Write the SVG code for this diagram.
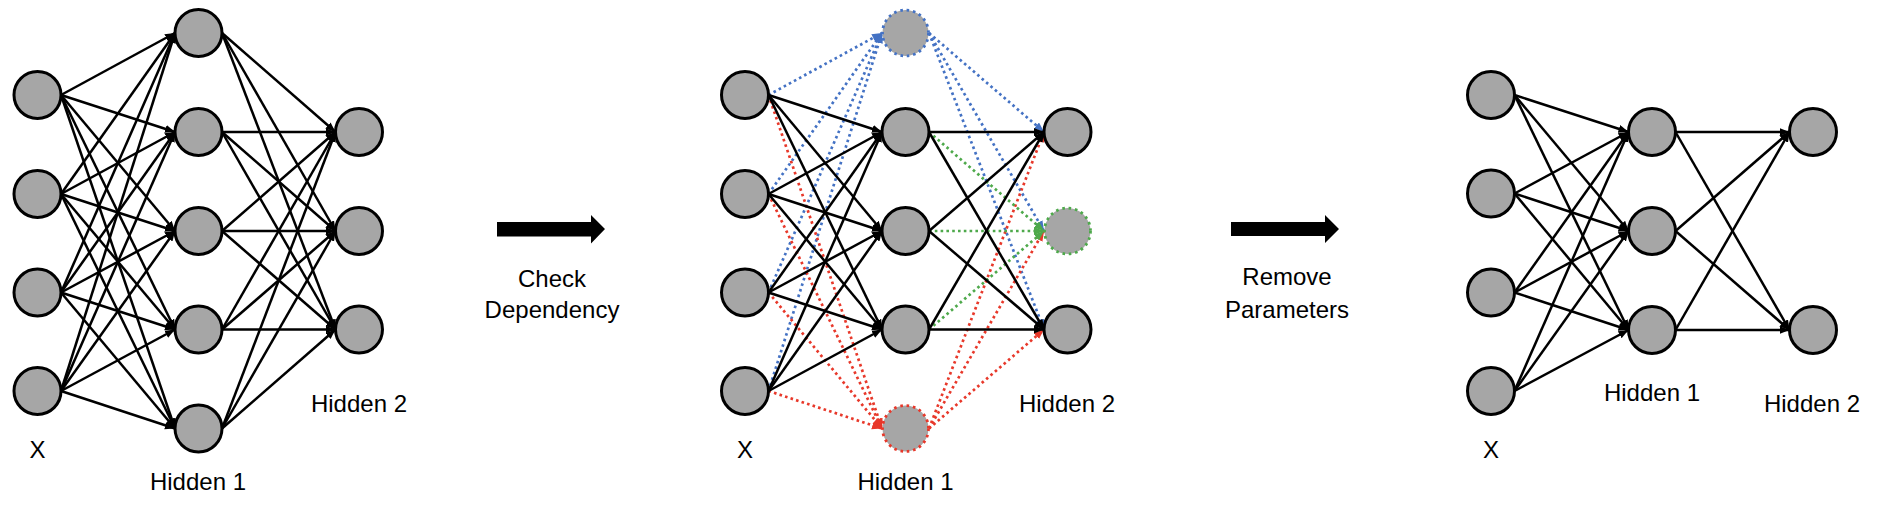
<svg xmlns="http://www.w3.org/2000/svg" width="1890" height="508" viewBox="0 0 1890 508">
<style>
.n{fill:#a6a6a6;stroke:#000;stroke-width:3}
.nd{fill:#a6a6a6;stroke-width:2.8;stroke-dasharray:2.6 3.8}
.e{stroke:#000;stroke-width:2.5;fill:none;marker-end:url(#ak)}
.b{stroke:#4472c4;stroke-width:2.7;stroke-dasharray:2.6 3.2;fill:none;marker-end:url(#ab)}
.r{stroke:#e8382a;stroke-width:2.7;stroke-dasharray:2.6 3.2;fill:none;marker-end:url(#ar)}
.g{stroke:#4ea94b;stroke-width:2.7;stroke-dasharray:2.6 3.2;fill:none;marker-end:url(#ag)}
text{font-family:"Liberation Sans",Arial,sans-serif;font-size:24px;fill:#000;text-anchor:middle}
</style>
<defs>
<marker id="ak" markerUnits="userSpaceOnUse" markerWidth="11" markerHeight="9" refX="10" refY="4" orient="auto"><path d="M0,0 L10,4 L0,8 z" fill="#000"/></marker>
<marker id="ab" markerUnits="userSpaceOnUse" markerWidth="11" markerHeight="9" refX="10" refY="4" orient="auto"><path d="M0,0 L10,4 L0,8 z" fill="#4472c4"/></marker>
<marker id="ar" markerUnits="userSpaceOnUse" markerWidth="11" markerHeight="9" refX="10" refY="4" orient="auto"><path d="M0,0 L10,4 L0,8 z" fill="#e8382a"/></marker>
<marker id="ag" markerUnits="userSpaceOnUse" markerWidth="11" markerHeight="9" refX="10" refY="4" orient="auto"><path d="M0,0 L10,4 L0,8 z" fill="#4ea94b"/></marker>
</defs>
<rect width="1890" height="508" fill="#fff"/>

<g id="connectors">
<!-- Panel 1: X -> H1 -->
<line class="e" x1="61" y1="95" x2="175" y2="33"/>
<line class="e" x1="61" y1="95" x2="175" y2="132"/>
<line class="e" x1="61" y1="95" x2="175" y2="231"/>
<line class="e" x1="61" y1="95" x2="175" y2="329.5"/>
<line class="e" x1="61" y1="95" x2="175" y2="428.5"/>
<line class="e" x1="61" y1="194" x2="175" y2="33"/>
<line class="e" x1="61" y1="194" x2="175" y2="132"/>
<line class="e" x1="61" y1="194" x2="175" y2="231"/>
<line class="e" x1="61" y1="194" x2="175" y2="329.5"/>
<line class="e" x1="61" y1="194" x2="175" y2="428.5"/>
<line class="e" x1="61" y1="292.5" x2="175" y2="33"/>
<line class="e" x1="61" y1="292.5" x2="175" y2="132"/>
<line class="e" x1="61" y1="292.5" x2="175" y2="231"/>
<line class="e" x1="61" y1="292.5" x2="175" y2="329.5"/>
<line class="e" x1="61" y1="292.5" x2="175" y2="428.5"/>
<line class="e" x1="61" y1="391" x2="175" y2="33"/>
<line class="e" x1="61" y1="391" x2="175" y2="132"/>
<line class="e" x1="61" y1="391" x2="175" y2="231"/>
<line class="e" x1="61" y1="391" x2="175" y2="329.5"/>
<line class="e" x1="61" y1="391" x2="175" y2="428.5"/>
<!-- Panel 1: H1 -> H2 -->
<line class="e" x1="222" y1="33" x2="335.5" y2="132"/>
<line class="e" x1="222" y1="33" x2="335.5" y2="231"/>
<line class="e" x1="222" y1="33" x2="335.5" y2="329.5"/>
<line class="e" x1="222" y1="132" x2="335.5" y2="132"/>
<line class="e" x1="222" y1="132" x2="335.5" y2="231"/>
<line class="e" x1="222" y1="132" x2="335.5" y2="329.5"/>
<line class="e" x1="222" y1="231" x2="335.5" y2="132"/>
<line class="e" x1="222" y1="231" x2="335.5" y2="231"/>
<line class="e" x1="222" y1="231" x2="335.5" y2="329.5"/>
<line class="e" x1="222" y1="329.5" x2="335.5" y2="132"/>
<line class="e" x1="222" y1="329.5" x2="335.5" y2="231"/>
<line class="e" x1="222" y1="329.5" x2="335.5" y2="329.5"/>
<line class="e" x1="222" y1="428.5" x2="335.5" y2="132"/>
<line class="e" x1="222" y1="428.5" x2="335.5" y2="231"/>
<line class="e" x1="222" y1="428.5" x2="335.5" y2="329.5"/>

<!-- Panel 2: blue dotted -->
<line class="b" x1="768.5" y1="95" x2="882" y2="33"/>
<line class="b" x1="768.5" y1="194" x2="882" y2="33"/>
<line class="b" x1="768.5" y1="292.5" x2="882" y2="33"/>
<line class="b" x1="768.5" y1="391" x2="882" y2="33"/>
<line class="b" x1="929" y1="33" x2="1044" y2="132"/>
<line class="b" x1="929" y1="33" x2="1044" y2="231"/>
<line class="b" x1="929" y1="33" x2="1044" y2="329.5"/>
<!-- Panel 2: red dotted -->
<line class="r" x1="768.5" y1="95" x2="882" y2="428.5"/>
<line class="r" x1="768.5" y1="194" x2="882" y2="428.5"/>
<line class="r" x1="768.5" y1="292.5" x2="882" y2="428.5"/>
<line class="r" x1="768.5" y1="391" x2="882" y2="428.5"/>
<line class="r" x1="929" y1="428.5" x2="1044" y2="132"/>
<line class="r" x1="929" y1="428.5" x2="1044" y2="231"/>
<line class="r" x1="929" y1="428.5" x2="1044" y2="329.5"/>
<!-- Panel 2: green dotted -->
<line class="g" x1="929" y1="132" x2="1044" y2="231"/>
<line class="g" x1="929" y1="231" x2="1044" y2="231"/>
<line class="g" x1="929" y1="329.5" x2="1044" y2="231"/>
<!-- Panel 2: black -->
<line class="e" x1="768.5" y1="95" x2="882" y2="132"/>
<line class="e" x1="768.5" y1="95" x2="882" y2="231"/>
<line class="e" x1="768.5" y1="95" x2="882" y2="329.5"/>
<line class="e" x1="768.5" y1="194" x2="882" y2="132"/>
<line class="e" x1="768.5" y1="194" x2="882" y2="231"/>
<line class="e" x1="768.5" y1="194" x2="882" y2="329.5"/>
<line class="e" x1="768.5" y1="292.5" x2="882" y2="132"/>
<line class="e" x1="768.5" y1="292.5" x2="882" y2="231"/>
<line class="e" x1="768.5" y1="292.5" x2="882" y2="329.5"/>
<line class="e" x1="768.5" y1="391" x2="882" y2="132"/>
<line class="e" x1="768.5" y1="391" x2="882" y2="231"/>
<line class="e" x1="768.5" y1="391" x2="882" y2="329.5"/>
<line class="e" x1="929" y1="132" x2="1044" y2="132"/>
<line class="e" x1="929" y1="132" x2="1044" y2="329.5"/>
<line class="e" x1="929" y1="231" x2="1044" y2="132"/>
<line class="e" x1="929" y1="231" x2="1044" y2="329.5"/>
<line class="e" x1="929" y1="329.5" x2="1044" y2="132"/>
<line class="e" x1="929" y1="329.5" x2="1044" y2="329.5"/>

<!-- Panel 3 -->
<line class="e" x1="1514.5" y1="95" x2="1628.5" y2="132"/>
<line class="e" x1="1514.5" y1="95" x2="1628.5" y2="231"/>
<line class="e" x1="1514.5" y1="95" x2="1628.5" y2="330"/>
<line class="e" x1="1514.5" y1="193.5" x2="1628.5" y2="132"/>
<line class="e" x1="1514.5" y1="193.5" x2="1628.5" y2="231"/>
<line class="e" x1="1514.5" y1="193.5" x2="1628.5" y2="330"/>
<line class="e" x1="1514.5" y1="292.5" x2="1628.5" y2="132"/>
<line class="e" x1="1514.5" y1="292.5" x2="1628.5" y2="231"/>
<line class="e" x1="1514.5" y1="292.5" x2="1628.5" y2="330"/>
<line class="e" x1="1514.5" y1="391" x2="1628.5" y2="132"/>
<line class="e" x1="1514.5" y1="391" x2="1628.5" y2="231"/>
<line class="e" x1="1514.5" y1="391" x2="1628.5" y2="330"/>
<line class="e" x1="1675.5" y1="132" x2="1789.5" y2="132"/>
<line class="e" x1="1675.5" y1="132" x2="1789.5" y2="330"/>
<line class="e" x1="1675.5" y1="231" x2="1789.5" y2="132"/>
<line class="e" x1="1675.5" y1="231" x2="1789.5" y2="330"/>
<line class="e" x1="1675.5" y1="330" x2="1789.5" y2="132"/>
<line class="e" x1="1675.5" y1="330" x2="1789.5" y2="330"/>
</g>

<!-- Panel 1 nodes -->
<g id="p1-x1"><circle class="n" cx="37.5" cy="95" r="23.5"/></g>
<g id="p1-x2"><circle class="n" cx="37.5" cy="194" r="23.5"/></g>
<g id="p1-x3"><circle class="n" cx="37.5" cy="292.5" r="23.5"/></g>
<g id="p1-x4"><circle class="n" cx="37.5" cy="391" r="23.5"/></g>
<g id="p1-h1-1"><circle class="n" cx="198.5" cy="33" r="23.5"/></g>
<g id="p1-h1-2"><circle class="n" cx="198.5" cy="132" r="23.5"/></g>
<g id="p1-h1-3"><circle class="n" cx="198.5" cy="231" r="23.5"/></g>
<g id="p1-h1-4"><circle class="n" cx="198.5" cy="329.5" r="23.5"/></g>
<g id="p1-h1-5"><circle class="n" cx="198.5" cy="428.5" r="23.5"/></g>
<g id="p1-h2-1"><circle class="n" cx="359" cy="132" r="23.5"/></g>
<g id="p1-h2-2"><circle class="n" cx="359" cy="231" r="23.5"/></g>
<g id="p1-h2-3"><circle class="n" cx="359" cy="329.5" r="23.5"/></g>
<g id="p1-labels">
<text x="37.5" y="458">X</text>
<text x="198" y="490">Hidden 1</text>
<text x="359" y="412">Hidden 2</text>
</g>

<!-- Arrow 1 -->
<g id="arrow-check">
<polygon points="497,222 591,222 591,215 605,229 591,243.5 591,236.5 497,236.5" fill="#000"/>
<text x="552" y="286.5">Check</text>
<text x="552" y="318">Dependency</text>
</g>

<!-- Panel 2 nodes -->
<g id="p2-x1"><circle class="n" cx="745" cy="95" r="23.5"/></g>
<g id="p2-x2"><circle class="n" cx="745" cy="194" r="23.5"/></g>
<g id="p2-x3"><circle class="n" cx="745" cy="292.5" r="23.5"/></g>
<g id="p2-x4"><circle class="n" cx="745" cy="391" r="23.5"/></g>
<g id="p2-h1-1"><circle class="nd" cx="905.5" cy="33" r="23" stroke="#4472c4"/></g>
<g id="p2-h1-2"><circle class="n" cx="905.5" cy="132" r="23.5"/></g>
<g id="p2-h1-3"><circle class="n" cx="905.5" cy="231" r="23.5"/></g>
<g id="p2-h1-4"><circle class="n" cx="905.5" cy="329.5" r="23.5"/></g>
<g id="p2-h1-5"><circle class="nd" cx="905.5" cy="428.5" r="23" stroke="#e8382a"/></g>
<g id="p2-h2-1"><circle class="n" cx="1067.5" cy="132" r="23.5"/></g>
<g id="p2-h2-2"><circle class="nd" cx="1067.5" cy="231" r="23" stroke="#4ea94b"/></g>
<g id="p2-h2-3"><circle class="n" cx="1067.5" cy="329.5" r="23.5"/></g>
<g id="p2-labels">
<text x="745" y="458">X</text>
<text x="905.5" y="490">Hidden 1</text>
<text x="1067" y="412">Hidden 2</text>
</g>

<!-- Arrow 2 -->
<g id="arrow-remove">
<polygon points="1231,222 1325,222 1325,215 1339,229 1325,243 1325,236 1231,236" fill="#000"/>
<text x="1287" y="285">Remove</text>
<text x="1287" y="317.5">Parameters</text>
</g>

<!-- Panel 3 nodes -->
<g id="p3-x1"><circle class="n" cx="1491" cy="95" r="23.5"/></g>
<g id="p3-x2"><circle class="n" cx="1491" cy="193.5" r="23.5"/></g>
<g id="p3-x3"><circle class="n" cx="1491" cy="292.5" r="23.5"/></g>
<g id="p3-x4"><circle class="n" cx="1491" cy="391" r="23.5"/></g>
<g id="p3-h1-1"><circle class="n" cx="1652" cy="132" r="23.5"/></g>
<g id="p3-h1-2"><circle class="n" cx="1652" cy="231" r="23.5"/></g>
<g id="p3-h1-3"><circle class="n" cx="1652" cy="330" r="23.5"/></g>
<g id="p3-h2-1"><circle class="n" cx="1813" cy="132" r="23.5"/></g>
<g id="p3-h2-2"><circle class="n" cx="1813" cy="330" r="23.5"/></g>
<g id="p3-labels">
<text x="1491" y="458">X</text>
<text x="1652" y="400.5">Hidden 1</text>
<text x="1812" y="412">Hidden 2</text>
</g>
</svg>
